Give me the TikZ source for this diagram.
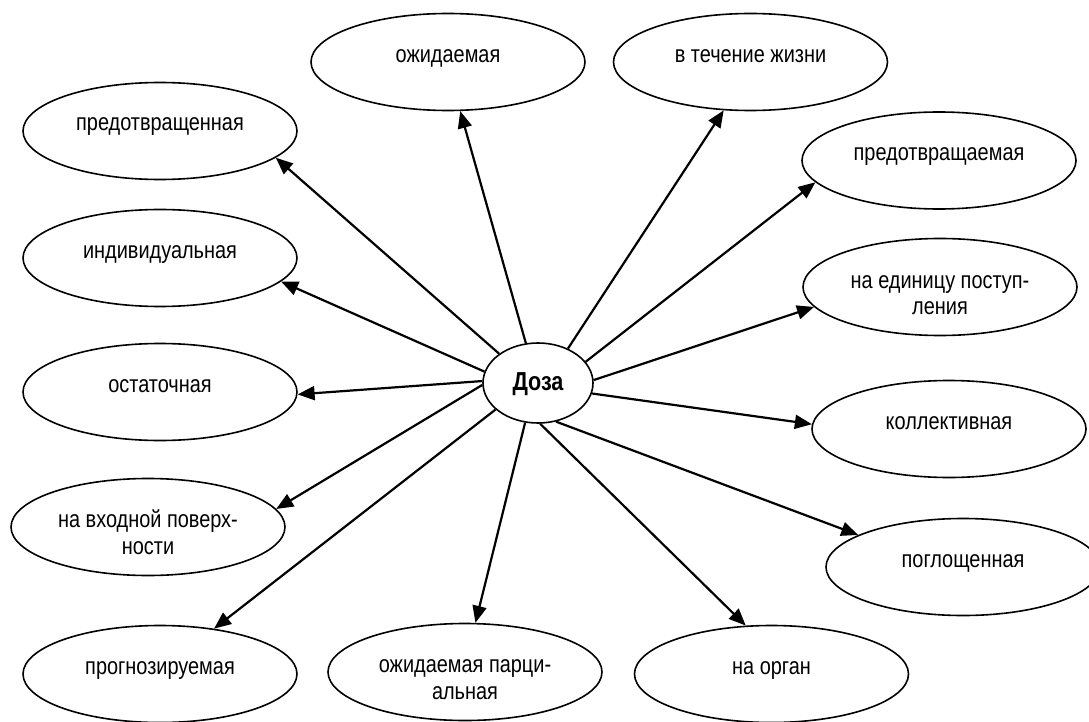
\documentclass[tikz,border=0pt]{standalone}
\usepackage{fontspec}
\setmainfont{Liberation Sans}[FakeStretch=0.83]
\usetikzlibrary{arrows.meta,shapes.geometric}
\tikzset{
  ell/.style={draw, ellipse, line width=1.6pt, minimum width=274pt, minimum height=97pt, inner sep=0pt},
  lbl/.style={font=\fontsize{24}{26.5}\selectfont, align=center, anchor=base, inner sep=0pt},
  arr/.style={line width=2.2pt, -{Triangle[length=17pt,width=14pt]}}
}
\begin{document}
\begin{tikzpicture}[x=1pt,y=-1pt]
\fill[white] (0,0) rectangle (1089,722);
\useasboundingbox (0,0) rectangle (1089,722);
% ellipses
\node[ell] (e1) at (448,62) {};
\node[ell] (e2) at (750.5,62) {};
\node[ell] (e3) at (160,131) {};
\node[ell] (e4) at (939,160.5) {};
\node[ell] (e5) at (160,258) {};
\node[ell] (e6) at (940,287) {};
\node[ell] (e7) at (160,392) {};
\node[ell] (e8) at (949,429) {};
\node[ell] (e9) at (148,527) {};
\node[ell] (e10) at (963,567) {};
\node[ell] (e11) at (160,674) {};
\node[ell] (e12) at (465,672) {};
\node[ell] (e13) at (771.5,674) {};
\node[draw, ellipse, line width=1.6pt, minimum width=110pt, minimum height=80pt, inner sep=0pt] (doza) at (538,383) {};
% labels (anchor base = baseline of the last line)
\node[lbl] (t1) at (448,63) {ожидаемая};
\node[lbl] (t2) at (750.5,63) {в течение жизни};
\node[lbl] (t3) at (160,131) {предотвращенная};
\node[lbl] (t4) at (939,161) {предотвращаемая};
\node[lbl] (t5) at (160,258) {индивидуальная};
\node[lbl] (t6) at (940,314.5) {на единицу поступ-\\ления};
\node[lbl] (t7) at (160,392) {остаточная};
\node[lbl] (t8) at (949,429) {коллективная};
\node[lbl] (t9) at (148,554) {на входной поверх-\\ности};
\node[lbl] (t10) at (963,567) {поглощенная};
\node[lbl] (t11) at (160,674) {прогнозируемая};
\node[lbl] (t12) at (465,699) {ожидаемая парци-\\альная};
\node[lbl] (t13) at (771.5,674) {на орган};
\node[lbl, font=\bfseries\fontsize{26}{28}\selectfont] (td) at (538,390) {Доза};
% arrows
\draw[arr] (doza.143) -- (e3.-13);
\draw[arr] (doza.107) -- (e1.-76);
\draw[arr] (doza.49) -- (e2.-119);
\draw[arr] (doza.24) -- (e4.190);
\draw[arr] (doza.3) -- (e6.189);
\draw[arr] (doza.-11) -- (e8.178);
\draw[arr] (doza.-65) -- (e10.163);
\draw[arr] (doza.-87) -- (e13.118);
\draw[arr] (doza.-108) -- (e12.78);
\draw[arr] (doza.-148) -- (e11.40);
\draw[arr] (doza.182) -- (e9.8);
\draw[arr] (doza.178) -- (e7.-1);
\draw[arr] (doza.168) -- (e5.-11);
\end{tikzpicture}
\end{document}
